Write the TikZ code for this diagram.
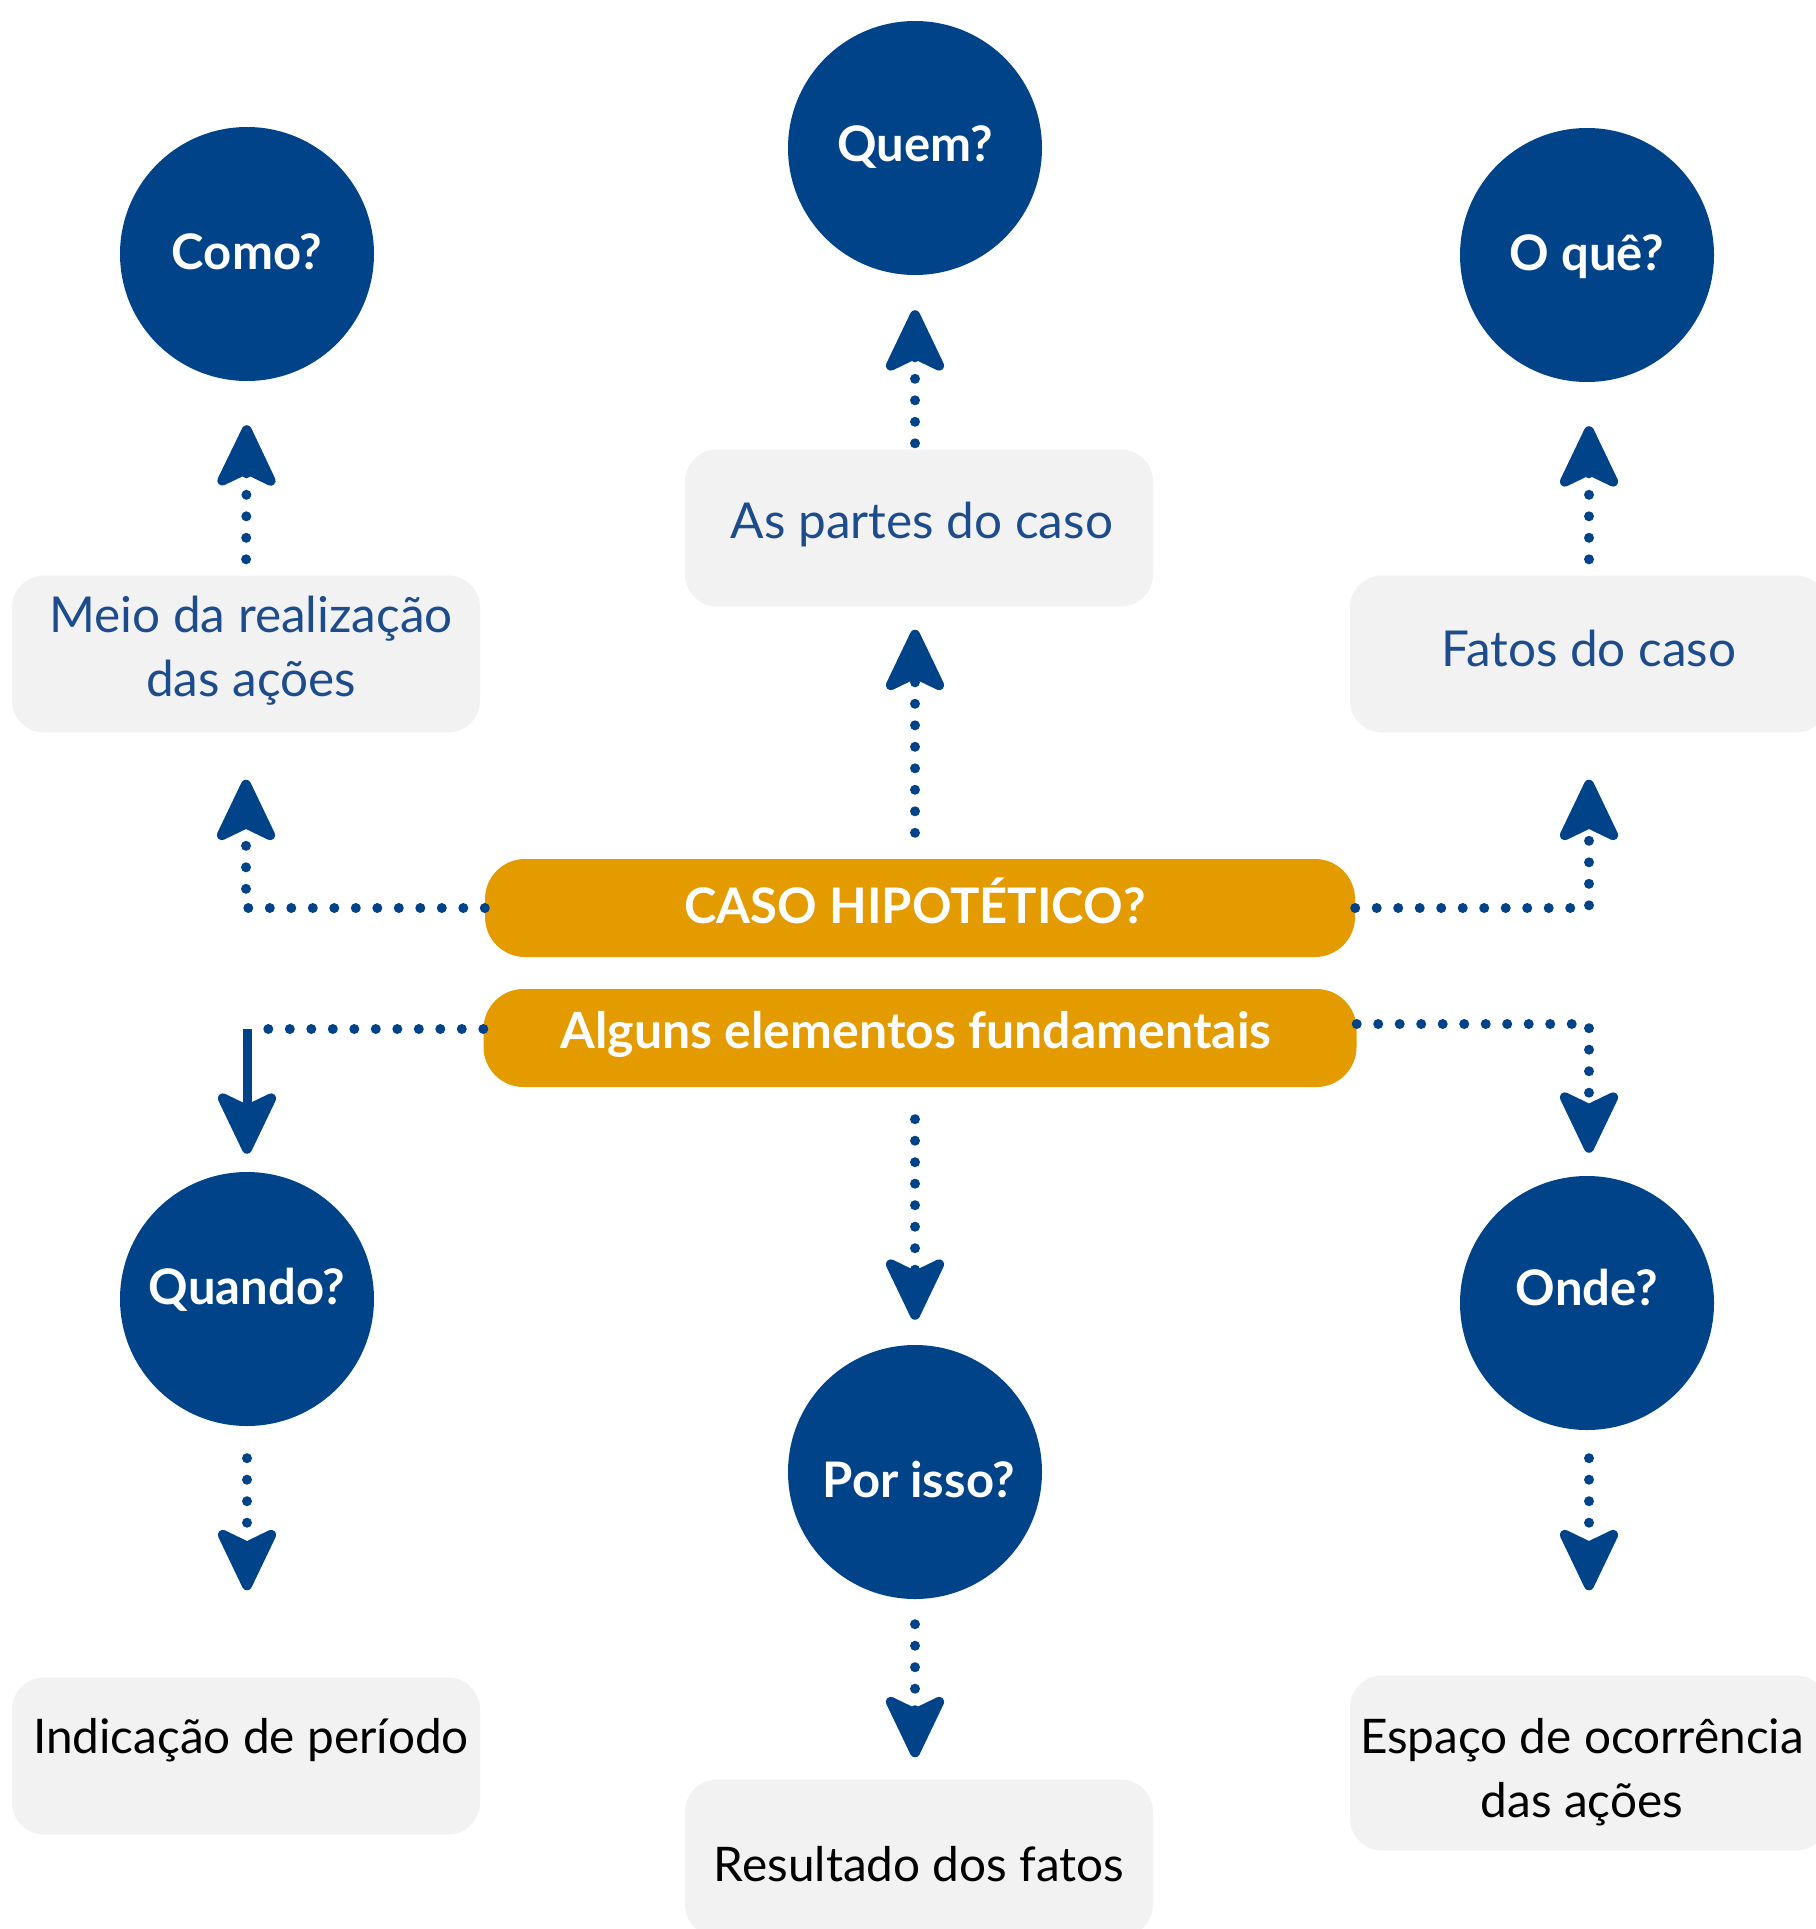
\documentclass[tikz,border=0pt]{standalone}
\usepackage{fontspec}
\setmainfont{Lato}
\usetikzlibrary{arrows.meta}
\definecolor{navy}{HTML}{004388}
\definecolor{navytext}{HTML}{1D4C8C}
\definecolor{gold}{HTML}{E39B00}
\definecolor{boxgray}{HTML}{F2F2F2}
\tikzset{
  qcircle/.style={circle, fill=navy, minimum size=254pt, inner sep=0pt},
  qtext/.style={inner sep=0pt, text=white, font=\bfseries\fontsize{49}{58}\selectfont},
  infobox/.style={rounded corners=32pt, fill=boxgray, minimum width=468pt, minimum height=157pt, inner sep=0pt},
  btext/.style={inner sep=0pt, align=center, text=navytext, font=\fontsize{49.5}{64}\selectfont},
  ktext/.style={inner sep=0pt, align=center, text=black, font=\fontsize{47.7}{64}\selectfont},
  bar/.style={rounded corners=40pt, fill=gold, minimum width=870pt, minimum height=98pt, inner sep=0pt},
  bartext/.style={inner sep=0pt, text=white, font=\bfseries\fontsize{49}{58}\selectfont},
  bigtip/.tip={Stealth[length=72pt, width=68pt, inset=16pt, round, line width=10pt]},
  dotline/.style={navy, line width=10pt, line cap=round, dash pattern=on 0pt off 21.5pt},
  dotarrow/.style={dotline, -{bigtip}},
  solidarrow/.style={navy, line width=9pt, -{bigtip}}
}
\begin{document}
\begin{tikzpicture}[x=1pt, y=-1pt]
\useasboundingbox (0,0) rectangle (1815,1929);
% circles
\node[qcircle] (como) at (247,254) {};
\node[qcircle] (quem) at (915,148) {};
\node[qcircle] (oque) at (1587,255) {};
\node[qcircle] (quando) at (247,1299) {};
\node[qcircle] (porisso) at (915,1472) {};
\node[qcircle] (onde) at (1587,1303) {};
\node[qtext] (comoT) at ([yshift=2pt]como.center) {Como?};
\node[qtext] (quemT) at ([yshift=1pt]quem.center) {Quem?};
\node[qtext] (oqueT) at ([yshift=-2pt]oque.center) {O quê?};
\node[qtext] (quandoT) at ([yshift=9pt]quando.center) {Quando?};
\node[qtext] (porissoT) at ([xshift=4pt, yshift=-8pt]porisso.center) {Por isso?};
\node[qtext] (ondeT) at ([yshift=16pt]onde.center) {Onde?};
% boxes
\node[infobox] (meio) at (246,654) {};
\node[infobox] (partes) at (919,528) {};
\node[infobox, minimum width=478pt] (fatos) at (1589,654) {};
\node[infobox] (indic) at (246,1756) {};
\node[infobox] (result) at (919,1858) {};
\node[infobox, minimum width=478pt, minimum height=175pt] (espaco) at (1589,1763) {};
\node[btext] (meioT) at ([xshift=5pt, yshift=3pt]meio.center) {Meio da realização\\das ações};
\node[btext] (partesT) at ([xshift=3pt, yshift=3pt]partes.center) {As partes do caso};
\node[btext] (fatosT) at ([yshift=6pt]fatos.center) {Fatos do caso};
\node[ktext] (indicT) at ([xshift=5pt, yshift=16pt]indic.center) {Indicação de período};
\node[ktext] (resultT) at ([yshift=-6pt]result.center) {Resultado dos fatos};
\node[ktext] (espacoT) at ([xshift=-7pt, yshift=-9pt]espaco.center) {Espaço de ocorrência\\das ações};
% bars
\node[bar] (caso) at (920,908) {};
\node[bar, minimum width=873pt] (alguns) at (920,1038) {};
\node[bartext] (casoT) at ([xshift=-5pt, yshift=7pt]caso.center) {CASO HIPOTÉTICO?};
\node[bartext, font=\bfseries\fontsize{50}{58}\selectfont] (algunsT) at ([xshift=-4pt, yshift=4pt]alguns.center) {Alguns elementos fundamentais};
% connectors
\draw[dotarrow, shorten >=47pt] (caso.west) -| (meio.south);
\draw[dotarrow, shorten <=16pt, shorten >=44pt] (meio.north) -- (como.south);
\draw[dotarrow, shorten <=26pt, shorten >=23pt] (caso.north -| quem.south) -- (partes.south -| quem.south);
\draw[dotarrow, shorten <=6pt, shorten >=35pt] (partes.north -| quem.south) -- (quem.south);
\draw[dotarrow, shorten >=47pt] (caso.east) -| (fatos.south);
\draw[dotarrow, shorten <=16pt, shorten >=44pt] (fatos.north) -- (fatos.north |- oque.south);
\coordinate (lcorner) at ([yshift=9pt]alguns.west -| quando.north);
\draw[dotline] ([yshift=9pt]alguns.west) -- (lcorner);
\draw[solidarrow, shorten >=18pt] (lcorner) -- (quando.north);
\draw[dotarrow, shorten >=23pt] ([yshift=14pt]alguns.east) -| (fatos.south |- onde.north);
\draw[dotarrow, shorten <=32pt, shorten >=25pt] (alguns.south -| porisso.north) -- (porisso.north);
\draw[dotarrow, shorten <=32pt, shorten >=87pt] (quando.south) -- (quando.south |- indic.north);
\draw[dotarrow, shorten <=25pt, shorten >=22pt] (porisso.south) -- (porisso.south |- result.north);
\draw[dotarrow, shorten <=28pt, shorten >=85pt] (espaco.north |- onde.south) -- (espaco.north);
\end{tikzpicture}
\end{document}
